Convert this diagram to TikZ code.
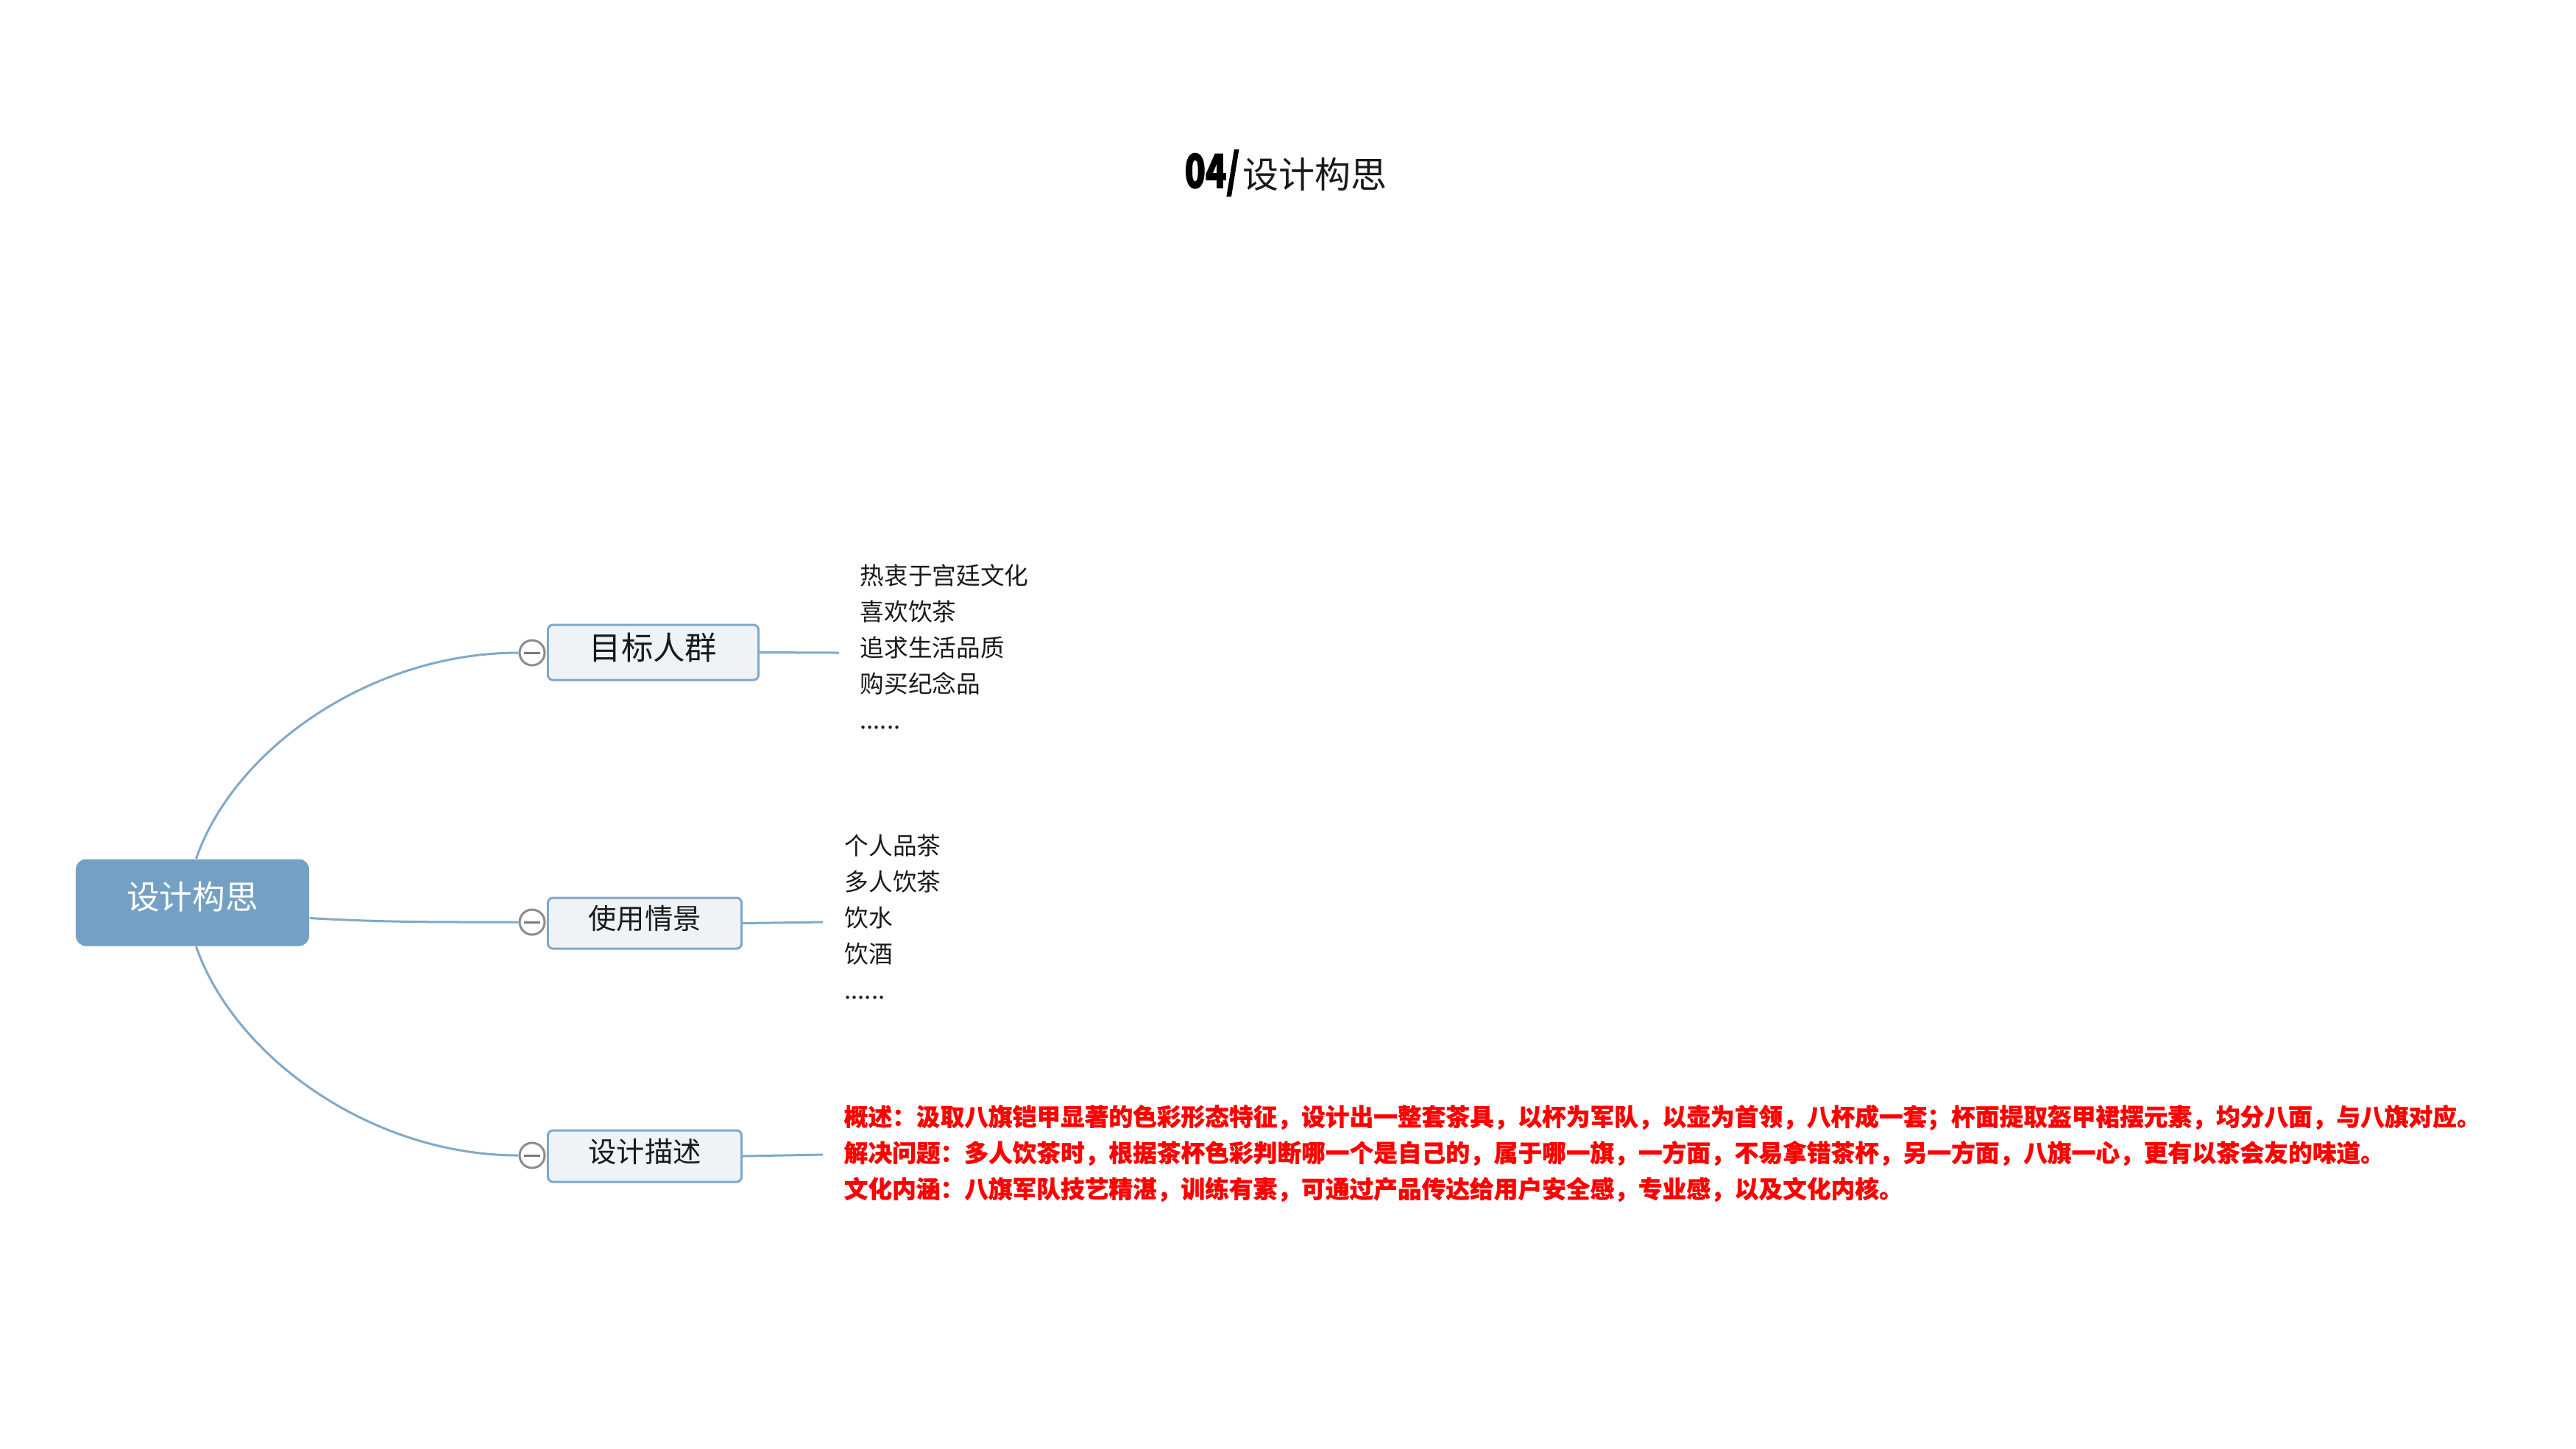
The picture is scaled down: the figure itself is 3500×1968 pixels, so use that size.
\documentclass[tikz,border=0pt]{standalone}
\usepackage{graphicx}
\usepackage{fontspec}
\setmainfont{Noto Sans CJK SC}
\newfontfamily\heavyfont{Noto Sans CJK SC}[BoldFeatures={FakeBold=2.5}]
\newfontfamily\redfont{Noto Sans CJK SC}[BoldFeatures={FakeBold=0.8}]
\definecolor{rootfill}{HTML}{74A1C3}
\definecolor{childfill}{HTML}{EEF3F7}
\definecolor{childline}{HTML}{80A8C8}
\definecolor{linkc}{HTML}{80A9CA}
\definecolor{togglec}{HTML}{8C8C8C}
\definecolor{togglem}{HTML}{7A7A7A}
\definecolor{txt}{HTML}{1A1A1A}
\definecolor{redtxt}{HTML}{FF0000}
\begin{document}
\begin{tikzpicture}[x=0.01cm,y=-0.01cm,
  conn/.style={draw=linkc, line width=0.03cm},
  rootbox/.style={rectangle, rounded corners=0.14cm, fill=rootfill, draw=none, text=white, inner sep=0,
    minimum width=3.17cm, minimum height=1.18cm, font=\fontsize{12.69pt}{14pt}\selectfont,
    text height=0.17cm, text depth=0cm},
  childbox/.style={rectangle, rounded corners=0.07cm, fill=childfill, draw=childline, line width=0.03cm,
    inner sep=0, text=txt, text depth=0cm},
  toggle/.style={circle, draw=togglec, line width=0.03cm, fill=white, minimum size=0.34cm, inner sep=0,
    path picture={\draw[line width=0.03cm, togglem] ([xshift=-0.11cm]path picture bounding box.center) -- ([xshift=0.11cm]path picture bounding box.center);}},
  listtext/.style={anchor=west, align=left, inner sep=0, text=txt, font=\fontsize{9.3pt}{13.94pt}\selectfont},
]
\fill[white] (0,0) rectangle (3500,1968);
\useasboundingbox (0,0) rectangle (3500,1968);

% title
\node[anchor=base east, inner sep=0] (t04) at (1685,255)
  {\heavyfont\bfseries\fontsize{17.9pt}{20pt}\selectfont\scalebox{0.74}[1]{04/}};
\node[anchor=base west, inner sep=0, text=txt] (tcn) at (1688,255)
  {\fontsize{13.94pt}{16pt}\selectfont 设计构思};

% root
\node[rootbox] (root) at (261.5,1226.5) {设计构思};

% children
\node[childbox, minimum width=2.86cm, minimum height=0.75cm, text height=0.20cm,
  font=\fontsize{12.35pt}{14pt}\selectfont] (n1) at (887.5,886.5) {目标人群};
\node[childbox, minimum width=2.63cm, minimum height=0.69cm, text height=0.16cm,
  font=\fontsize{10.9pt}{13pt}\selectfont] (n2) at (876,1254.5) {使用情景};
\node[childbox, minimum width=2.63cm, minimum height=0.70cm, text height=0.16cm,
  font=\fontsize{10.9pt}{13pt}\selectfont] (n3) at (876,1571) {设计描述};

% toggles
\node[toggle] (tg1) at (723,887) {};
\node[toggle] (tg2) at (723,1253) {};
\node[toggle] (tg3) at (723,1570) {};

% connectors root -> toggles
\draw[conn] ([xshift=0.05cm]root.north) .. controls +(52,-150) and +(-200,0) .. (tg1.west);
\draw[conn] ([yshift=-0.21cm]root.east) .. controls +(100,6) and +(-100,0) .. (tg2.west);
\draw[conn] ([xshift=0.05cm]root.south) .. controls +(52,150) and +(-200,0) .. (tg3.west);

% connectors child -> lists
\coordinate (e1) at (1140,887);
\coordinate (e2) at (1118,1253);
\coordinate (e3) at (1118,1569);
\draw[conn] (n1.east) -- (e1);
\draw[conn] (n2.east) -- (e2);
\draw[conn] (n3.east) -- (e3);

% lists
\node[listtext] (l1) at (1168,879) {热衷于宫廷文化\\喜欢饮茶\\追求生活品质\\购买纪念品\\......};
\node[listtext] (l2) at (1147,1246) {个人品茶\\多人饮茶\\饮水\\饮酒\\......};
\node[listtext, text=redtxt, font=\fontsize{9.3pt}{13.94pt}\redfont\bfseries] (l3) at (1146,1567)
  {概述：汲取八旗铠甲显著的色彩形态特征，设计出一整套茶具，以杯为军队，以壶为首领，八杯成一套；杯面提取盔甲裙摆元素，均分八面，与八旗对应。\\
   解决问题：多人饮茶时，根据茶杯色彩判断哪一个是自己的，属于哪一旗，一方面，不易拿错茶杯，另一方面，八旗一心，更有以茶会友的味道。\\
   文化内涵：八旗军队技艺精湛，训练有素，可通过产品传达给用户安全感，专业感，以及文化内核。};
\end{tikzpicture}
\end{document}
